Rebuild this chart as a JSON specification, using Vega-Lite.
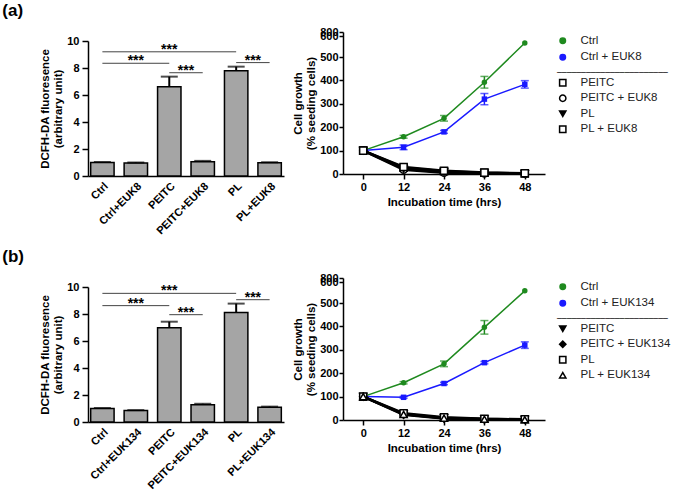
{
  "$schema": "https://vega.github.io/schema/vega-lite/v6.json",
  "background": "white",
  "padding": {"left": 2, "top": 2, "right": 0, "bottom": 0},
  "config": {
    "font": "Liberation Sans",
    "view": {"stroke": null},
    "axis": {"grid": false, "labelOverlap": false, "tickCount": 20, "domainColor": "black", "domainWidth": 1.5, "tickColor": "black", "tickWidth": 1.5, "tickSize": 6, "labelFont": "Liberation Sans", "labelFontWeight": "bold", "labelFontSize": 11, "labelColor": "black", "labelPadding": 3, "titleFont": "Liberation Sans", "titleFontWeight": "bold", "titleFontSize": 11.5, "titleColor": "black"},
    "legend": {"labelFont": "Liberation Sans", "labelFontSize": 11.5, "labelColor": "#222", "symbolSize": 40, "rowPadding": 2.5, "offset": 9, "padding": 3, "symbolStrokeWidth": 1.5, "labelOffset": 12, "titleFont": "DejaVu Sans Mono", "titleFontWeight": "normal", "titleFontSize": 8, "titleColor": "black", "titleLimit": 300, "titlePadding": 0, "layout": {"right": {"anchor": "start", "direction": "vertical", "margin": 0}}}
  },
  "resolve": {"scale": {"color": "independent", "shape": "independent", "fill": "independent"}, "legend": {"color": "independent", "shape": "independent", "fill": "independent"}},
  "datasets": {
    "barsA": [
      {"group": "Ctrl", "mean": 1.0, "upper": 1.04},
      {"group": "Ctrl+EUK8", "mean": 0.97, "upper": 1.0},
      {"group": "PEITC", "mean": 6.62, "upper": 7.36},
      {"group": "PEITC+EUK8", "mean": 1.06, "upper": 1.12},
      {"group": "PL", "mean": 7.8, "upper": 8.1},
      {"group": "PL+EUK8", "mean": 0.98, "upper": 1.02}
    ],
    "sigA": [
      {"from": "Ctrl", "to": "PL", "mid": "PEITC", "y": 9.2, "kind": "span"},
      {"from": "Ctrl", "to": "PEITC", "mid": "Ctrl+EUK8", "y": 8.35, "kind": "span"},
      {"from": "PEITC", "to": "PEITC+EUK8", "mid": "PEITC", "y": 7.65, "kind": "adjacent"},
      {"from": "PL", "to": "PL+EUK8", "mid": "PL", "y": 8.4, "kind": "adjacent"}
    ],
    "barsB": [
      {"group": "Ctrl", "mean": 1.0, "upper": 1.04},
      {"group": "Ctrl+EUK134", "mean": 0.85, "upper": 0.88},
      {"group": "PEITC", "mean": 6.98, "upper": 7.43},
      {"group": "PEITC+EUK134", "mean": 1.28, "upper": 1.35},
      {"group": "PL", "mean": 8.12, "upper": 8.77},
      {"group": "PL+EUK134", "mean": 1.1, "upper": 1.14}
    ],
    "sigB": [
      {"from": "Ctrl", "to": "PL", "mid": "PEITC", "y": 9.53, "kind": "span"},
      {"from": "Ctrl", "to": "PEITC", "mid": "Ctrl+EUK134", "y": 8.62, "kind": "span"},
      {"from": "PEITC", "to": "PEITC+EUK134", "mid": "PEITC", "y": 7.95, "kind": "adjacent"},
      {"from": "PL", "to": "PL+EUK134", "mid": "PL", "y": 9.06, "kind": "adjacent"}
    ],
    "colA": [
      {"series": "Ctrl", "t": 0, "v": 100},
      {"series": "Ctrl", "t": 12, "v": 159, "lo": 153, "hi": 165},
      {"series": "Ctrl", "t": 24, "v": 238, "lo": 226, "hi": 250},
      {"series": "Ctrl", "t": 36, "v": 392, "lo": 367, "hi": 417},
      {"series": "Ctrl", "t": 48, "v": 567},
      {"series": "Ctrl + EUK8", "t": 0, "v": 100},
      {"series": "Ctrl + EUK8", "t": 12, "v": 114, "lo": 104, "hi": 124},
      {"series": "Ctrl + EUK8", "t": 24, "v": 180, "lo": 174, "hi": 186},
      {"series": "Ctrl + EUK8", "t": 36, "v": 320, "lo": 296, "hi": 344},
      {"series": "Ctrl + EUK8", "t": 48, "v": 383, "lo": 367, "hi": 399}
    ],
    "blkA": [
      {"series": "PEITC", "t": 0, "v": 100}, {"series": "PEITC", "t": 12, "v": 27}, {"series": "PEITC", "t": 24, "v": 12}, {"series": "PEITC", "t": 36, "v": 5}, {"series": "PEITC", "t": 48, "v": 2},
      {"series": "PEITC + EUK8", "t": 0, "v": 100}, {"series": "PEITC + EUK8", "t": 12, "v": 18}, {"series": "PEITC + EUK8", "t": 24, "v": 5}, {"series": "PEITC + EUK8", "t": 36, "v": 2}, {"series": "PEITC + EUK8", "t": 48, "v": 1},
      {"series": "PL", "t": 0, "v": 100}, {"series": "PL", "t": 12, "v": 22}, {"series": "PL", "t": 24, "v": 8}, {"series": "PL", "t": 36, "v": 3}, {"series": "PL", "t": 48, "v": 1},
      {"series": "PL + EUK8", "t": 0, "v": 100}, {"series": "PL + EUK8", "t": 12, "v": 30}, {"series": "PL + EUK8", "t": 24, "v": 14}, {"series": "PL + EUK8", "t": 36, "v": 6}, {"series": "PL + EUK8", "t": 48, "v": 3}
    ],
    "colB": [
      {"series": "Ctrl", "t": 0, "v": 100},
      {"series": "Ctrl", "t": 12, "v": 159, "lo": 154, "hi": 164},
      {"series": "Ctrl", "t": 24, "v": 240, "lo": 228, "hi": 252},
      {"series": "Ctrl", "t": 36, "v": 396, "lo": 367, "hi": 425},
      {"series": "Ctrl", "t": 48, "v": 558},
      {"series": "Ctrl + EUK134", "t": 0, "v": 100},
      {"series": "Ctrl + EUK134", "t": 12, "v": 97, "lo": 93, "hi": 101},
      {"series": "Ctrl + EUK134", "t": 24, "v": 156, "lo": 151, "hi": 161},
      {"series": "Ctrl + EUK134", "t": 36, "v": 245, "lo": 240, "hi": 250},
      {"series": "Ctrl + EUK134", "t": 48, "v": 320, "lo": 306, "hi": 334}
    ],
    "blkB": [
      {"series": "PEITC", "t": 0, "v": 100}, {"series": "PEITC", "t": 12, "v": 26}, {"series": "PEITC", "t": 24, "v": 9}, {"series": "PEITC", "t": 36, "v": 4}, {"series": "PEITC", "t": 48, "v": 2},
      {"series": "PEITC + EUK134", "t": 0, "v": 100}, {"series": "PEITC + EUK134", "t": 12, "v": 22}, {"series": "PEITC + EUK134", "t": 24, "v": 6}, {"series": "PEITC + EUK134", "t": 36, "v": 2}, {"series": "PEITC + EUK134", "t": 48, "v": 1},
      {"series": "PL", "t": 0, "v": 100}, {"series": "PL", "t": 12, "v": 29}, {"series": "PL", "t": 24, "v": 12}, {"series": "PL", "t": 36, "v": 5}, {"series": "PL", "t": 48, "v": 3},
      {"series": "PL + EUK134", "t": 0, "v": 100}, {"series": "PL + EUK134", "t": 12, "v": 24}, {"series": "PL + EUK134", "t": 24, "v": 8}, {"series": "PL + EUK134", "t": 36, "v": 3}, {"series": "PL + EUK134", "t": 48, "v": 1}
    ]
  },
  "spacing": 12,
  "vconcat": [
    {
      "title": {"text": "(a)", "anchor": "start", "fontSize": 17, "fontWeight": "bold", "font": "Liberation Sans", "color": "black", "dx": -37, "offset": 6},
      "spacing": 8,
      "hconcat": [
        {
          "width": 196, "height": 144,
          "layer": [
            {"data": {"name": "barsA"}, "mark": {"type": "bar", "fill": "#a5a5a5", "stroke": "black", "strokeWidth": 1.5},
             "encoding": {
               "x": {"field": "group", "type": "nominal", "sort": null, "scale": {"domain": ["Ctrl", "Ctrl+EUK8", "PEITC", "PEITC+EUK8", "PL", "PL+EUK8"], "paddingInner": 0.3, "paddingOuter": 0.08}, "axis": {"title": null, "labelAngle": -45, "ticks": false, "labelPadding": 4}},
               "y": {"field": "mean", "type": "quantitative", "scale": {"domain": [0, 10], "range": [144, 9], "nice": false}, "axis": {"values": [0, 2, 4, 6, 8, 10], "format": "d", "title": ["DCFH-DA  fluoresence", "(arbitrary unit)"], "titlePadding": 3}}
             }},
            {"data": {"name": "barsA"}, "mark": {"type": "rule", "strokeWidth": 2, "color": "black"},
             "encoding": {"x": {"field": "group", "type": "nominal"}, "y": {"field": "mean", "type": "quantitative"}, "y2": {"field": "upper"}}},
            {"data": {"name": "barsA"}, "mark": {"type": "tick", "orient": "horizontal", "size": 17, "thickness": 2, "color": "black"},
             "encoding": {"x": {"field": "group", "type": "nominal"}, "y": {"field": "upper", "type": "quantitative"}}},
            {"data": {"name": "sigA"}, "mark": {"type": "rule", "strokeWidth": 1, "color": "#444"},
             "encoding": {"x": {"field": "from", "type": "nominal"}, "x2": {"field": "to"}, "y": {"field": "y", "type": "quantitative"}}},
            {"data": {"name": "sigA"}, "transform": [{"filter": "datum.kind == 'span'"}], "mark": {"type": "text", "text": "***", "fontSize": 14, "fontWeight": "bold", "baseline": "alphabetic", "dy": 2, "color": "black"},
             "encoding": {"x": {"field": "mid", "type": "nominal"}, "y": {"field": "y", "type": "quantitative"}}},
            {"data": {"name": "sigA"}, "transform": [{"filter": "datum.kind == 'adjacent'"}], "mark": {"type": "text", "text": "***", "fontSize": 14, "fontWeight": "bold", "baseline": "alphabetic", "dy": 2, "color": "black"},
             "encoding": {"x": {"field": "mid", "type": "nominal", "bandPosition": 1.2143}, "y": {"field": "y", "type": "quantitative"}}}
          ]
        },
        {
          "width": 202, "height": 142,
          "layer": [
            {"data": {"name": "colA"}, "transform": [{"filter": "datum.series == 'Ctrl'"}], "mark": {"type": "point", "filled": true, "size": 30, "opacity": 1, "shape": "circle"},
             "encoding": {
               "x": {"field": "t", "type": "quantitative", "scale": {"domain": [-6, 54], "nice": false, "zero": false}, "axis": {"values": [0, 12, 24, 36, 48], "format": "d", "title": "Incubation time (hrs)", "titlePadding": 4, "labelPadding": 2, "tickSize": 5}},
               "y": {"field": "v", "type": "quantitative", "scale": {"domain": [0, 500, 600, 800], "range": [142, 25, 4, 0], "nice": false}, "axis": {"values": [0, 100, 200, 300, 400, 500, 600, 800], "format": "d", "title": ["Cell growth", "(% seeding cells)"], "titlePadding": 3, "labelPadding": 1, "tickSize": 4}},
               "color": {"field": "series", "type": "nominal", "scale": {"domain": ["Ctrl", "Ctrl + EUK8"], "range": ["#1f8a1f", "#1a1aff"]}, "legend": {"title": null, "symbolSize": 30, "rowPadding": 3.5, "encode": {"symbols": {"update": {"shape": {"signal": "datum.value === 'Ctrl' ? 'circle' : 'square'"}}}}}}
             }},
            {"data": {"name": "colA"}, "transform": [{"filter": "datum.series != 'Ctrl'"}], "mark": {"type": "point", "filled": true, "size": 30, "opacity": 1, "shape": "square"},
             "encoding": {"x": {"field": "t", "type": "quantitative"}, "y": {"field": "v", "type": "quantitative"}, "color": {"field": "series", "type": "nominal"}}},
            {"data": {"name": "colA"}, "mark": {"type": "line", "strokeWidth": 1.5},
             "encoding": {"x": {"field": "t", "type": "quantitative"}, "y": {"field": "v", "type": "quantitative"}, "color": {"field": "series", "type": "nominal"}}},
            {"data": {"name": "colA"}, "transform": [{"filter": "isValid(datum.lo)"}], "mark": {"type": "rule", "strokeWidth": 1.5},
             "encoding": {"x": {"field": "t", "type": "quantitative"}, "y": {"field": "lo", "type": "quantitative"}, "y2": {"field": "hi"}, "color": {"field": "series", "type": "nominal"}}},
            {"data": {"name": "colA"}, "transform": [{"filter": "isValid(datum.lo)"}], "mark": {"type": "tick", "orient": "horizontal", "size": 8, "thickness": 1.5},
             "encoding": {"x": {"field": "t", "type": "quantitative"}, "y": {"field": "lo", "type": "quantitative"}, "color": {"field": "series", "type": "nominal"}}},
            {"data": {"name": "colA"}, "transform": [{"filter": "isValid(datum.hi)"}], "mark": {"type": "tick", "orient": "horizontal", "size": 8, "thickness": 1.5},
             "encoding": {"x": {"field": "t", "type": "quantitative"}, "y": {"field": "hi", "type": "quantitative"}, "color": {"field": "series", "type": "nominal"}}},
            {"data": {"name": "blkA"}, "mark": {"type": "line", "color": "black", "strokeWidth": 2.5},
             "encoding": {"x": {"field": "t", "type": "quantitative"}, "y": {"field": "v", "type": "quantitative"}, "detail": {"field": "series"}}},
            {"data": {"name": "blkA"}, "mark": {"type": "point", "filled": true, "stroke": "black", "strokeWidth": 1.5, "size": 50, "opacity": 1},
             "encoding": {
               "x": {"field": "t", "type": "quantitative"}, "y": {"field": "v", "type": "quantitative"},
               "shape": {"field": "series", "type": "nominal", "scale": {"domain": ["PEITC", "PEITC + EUK8", "PL", "PL + EUK8"], "range": ["square", "circle", "triangle-down", "square"]}, "legend": {"title": "───────────────────────", "encode": {"symbols": {"update": {"stroke": {"value": "black"}, "fill": {"signal": "datum.value === 'PL' ? 'black' : 'white'"}}}}}},
               "fill": {"field": "series", "type": "nominal", "scale": {"domain": ["PEITC", "PEITC + EUK8", "PL", "PL + EUK8"], "range": ["white", "white", "black", "white"]}, "legend": null}
             }}
          ]
        }
      ]
    },
    {
      "title": {"text": "(b)", "anchor": "start", "fontSize": 17, "fontWeight": "bold", "font": "Liberation Sans", "color": "black", "dx": -37, "offset": 6},
      "spacing": 8,
      "hconcat": [
        {
          "width": 196, "height": 144,
          "layer": [
            {"data": {"name": "barsB"}, "mark": {"type": "bar", "fill": "#a5a5a5", "stroke": "black", "strokeWidth": 1.5},
             "encoding": {
               "x": {"field": "group", "type": "nominal", "sort": null, "scale": {"domain": ["Ctrl", "Ctrl+EUK134", "PEITC", "PEITC+EUK134", "PL", "PL+EUK134"], "paddingInner": 0.3, "paddingOuter": 0.08}, "axis": {"title": null, "labelAngle": -45, "ticks": false, "labelPadding": 4}},
               "y": {"field": "mean", "type": "quantitative", "scale": {"domain": [0, 10], "range": [144, 9], "nice": false}, "axis": {"values": [0, 2, 4, 6, 8, 10], "format": "d", "title": ["DCFH-DA  fluoresence", "(arbitrary unit)"], "titlePadding": 3}}
             }},
            {"data": {"name": "barsB"}, "mark": {"type": "rule", "strokeWidth": 2, "color": "black"},
             "encoding": {"x": {"field": "group", "type": "nominal"}, "y": {"field": "mean", "type": "quantitative"}, "y2": {"field": "upper"}}},
            {"data": {"name": "barsB"}, "mark": {"type": "tick", "orient": "horizontal", "size": 17, "thickness": 2, "color": "black"},
             "encoding": {"x": {"field": "group", "type": "nominal"}, "y": {"field": "upper", "type": "quantitative"}}},
            {"data": {"name": "sigB"}, "mark": {"type": "rule", "strokeWidth": 1, "color": "#444"},
             "encoding": {"x": {"field": "from", "type": "nominal"}, "x2": {"field": "to"}, "y": {"field": "y", "type": "quantitative"}}},
            {"data": {"name": "sigB"}, "transform": [{"filter": "datum.kind == 'span'"}], "mark": {"type": "text", "text": "***", "fontSize": 14, "fontWeight": "bold", "baseline": "alphabetic", "dy": 2, "color": "black"},
             "encoding": {"x": {"field": "mid", "type": "nominal"}, "y": {"field": "y", "type": "quantitative"}}},
            {"data": {"name": "sigB"}, "transform": [{"filter": "datum.kind == 'adjacent'"}], "mark": {"type": "text", "text": "***", "fontSize": 14, "fontWeight": "bold", "baseline": "alphabetic", "dy": 2, "color": "black"},
             "encoding": {"x": {"field": "mid", "type": "nominal", "bandPosition": 1.2143}, "y": {"field": "y", "type": "quantitative"}}}
          ]
        },
        {
          "width": 202, "height": 142,
          "layer": [
            {"data": {"name": "colB"}, "transform": [{"filter": "datum.series == 'Ctrl'"}], "mark": {"type": "point", "filled": true, "size": 30, "opacity": 1, "shape": "circle"},
             "encoding": {
               "x": {"field": "t", "type": "quantitative", "scale": {"domain": [-6, 54], "nice": false, "zero": false}, "axis": {"values": [0, 12, 24, 36, 48], "format": "d", "title": "Incubation time (hrs)", "titlePadding": 4, "labelPadding": 2, "tickSize": 5}},
               "y": {"field": "v", "type": "quantitative", "scale": {"domain": [0, 500, 600, 800], "range": [142, 25, 4, 0], "nice": false}, "axis": {"values": [0, 100, 200, 300, 400, 500, 600, 800], "format": "d", "title": ["Cell growth", "(% seeding cells)"], "titlePadding": 3, "labelPadding": 1, "tickSize": 4}},
               "color": {"field": "series", "type": "nominal", "scale": {"domain": ["Ctrl", "Ctrl + EUK134"], "range": ["#1f8a1f", "#1a1aff"]}, "legend": {"title": null, "symbolSize": 30, "rowPadding": 3.5, "encode": {"symbols": {"update": {"shape": {"signal": "datum.value === 'Ctrl' ? 'circle' : 'square'"}}}}}}
             }},
            {"data": {"name": "colB"}, "transform": [{"filter": "datum.series != 'Ctrl'"}], "mark": {"type": "point", "filled": true, "size": 30, "opacity": 1, "shape": "square"},
             "encoding": {"x": {"field": "t", "type": "quantitative"}, "y": {"field": "v", "type": "quantitative"}, "color": {"field": "series", "type": "nominal"}}},
            {"data": {"name": "colB"}, "mark": {"type": "line", "strokeWidth": 1.5},
             "encoding": {"x": {"field": "t", "type": "quantitative"}, "y": {"field": "v", "type": "quantitative"}, "color": {"field": "series", "type": "nominal"}}},
            {"data": {"name": "colB"}, "transform": [{"filter": "isValid(datum.lo)"}], "mark": {"type": "rule", "strokeWidth": 1.5},
             "encoding": {"x": {"field": "t", "type": "quantitative"}, "y": {"field": "lo", "type": "quantitative"}, "y2": {"field": "hi"}, "color": {"field": "series", "type": "nominal"}}},
            {"data": {"name": "colB"}, "transform": [{"filter": "isValid(datum.lo)"}], "mark": {"type": "tick", "orient": "horizontal", "size": 8, "thickness": 1.5},
             "encoding": {"x": {"field": "t", "type": "quantitative"}, "y": {"field": "lo", "type": "quantitative"}, "color": {"field": "series", "type": "nominal"}}},
            {"data": {"name": "colB"}, "transform": [{"filter": "isValid(datum.hi)"}], "mark": {"type": "tick", "orient": "horizontal", "size": 8, "thickness": 1.5},
             "encoding": {"x": {"field": "t", "type": "quantitative"}, "y": {"field": "hi", "type": "quantitative"}, "color": {"field": "series", "type": "nominal"}}},
            {"data": {"name": "blkB"}, "mark": {"type": "line", "color": "black", "strokeWidth": 2.5},
             "encoding": {"x": {"field": "t", "type": "quantitative"}, "y": {"field": "v", "type": "quantitative"}, "detail": {"field": "series"}}},
            {"data": {"name": "blkB"}, "mark": {"type": "point", "filled": true, "stroke": "black", "strokeWidth": 1.5, "size": 50, "opacity": 1},
             "encoding": {
               "x": {"field": "t", "type": "quantitative"}, "y": {"field": "v", "type": "quantitative"},
               "shape": {"field": "series", "type": "nominal", "scale": {"domain": ["PEITC", "PEITC + EUK134", "PL", "PL + EUK134"], "range": ["triangle-down", "diamond", "square", "triangle-up"]}, "legend": {"title": "───────────────────────", "encode": {"symbols": {"update": {"stroke": {"value": "black"}, "fill": {"signal": "datum.value === 'PEITC' || datum.value === 'PEITC + EUK134' ? 'black' : 'white'"}}}}}},
               "fill": {"field": "series", "type": "nominal", "scale": {"domain": ["PEITC", "PEITC + EUK134", "PL", "PL + EUK134"], "range": ["black", "black", "white", "white"]}, "legend": null}
             }}
          ]
        }
      ]
    }
  ]
}
